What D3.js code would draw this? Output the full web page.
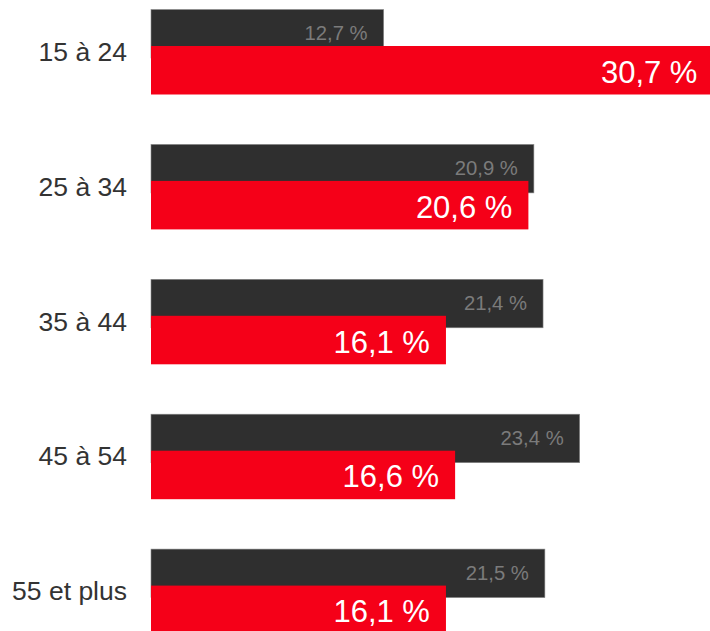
<!DOCTYPE html>
<html><head><meta charset="utf-8">
<script src="https://cdn.jsdelivr.net/npm/d3@7"></script>
<style>html,body{margin:0;padding:0;background:#fff;overflow:hidden}svg{display:block}</style>
</head><body>
<script>
const categories = ["15 à 24", "25 à 34", "35 à 44", "45 à 54", "55 et plus"];
const darkValues = [12.7, 20.9, 21.4, 23.4, 21.5];
const redValues = [30.7, 20.6, 16.1, 16.6, 16.1];
const fmt = v => String(v.toFixed(1)).replace(".", ",") + " %";

const W = 710, H = 631;
const svg = d3.select("body").append("svg").attr("width", W).attr("height", H);

const x = d3.scaleLinear().domain([0, 35]).range([151, 151 + 18.32 * 35]);
const y = d3.scaleBand().domain(categories).range([9.5, 9.5 + 5 * 134.9]).paddingInner(0);
const barH = 48.5, redOff = 36.5;

const g = svg.selectAll("g.cat").data(categories).enter().append("g").attr("class", "cat");

g.append("rect")
  .attr("x", x(0)).attr("y", c => y(c))
  .attr("width", (c, i) => x(darkValues[i]) - x(0)).attr("height", barH)
  .attr("fill", "#2f2f2f").attr("stroke", "#8a8a8a").attr("stroke-width", 0.6);

g.append("text")
  .attr("x", (c, i) => x(darkValues[i]) - 16).attr("y", c => y(c) + 30.5)
  .attr("text-anchor", "end").attr("font-family", "Liberation Sans, Arial, sans-serif")
  .attr("font-size", 20.3).attr("fill", "#7b7b7b")
  .text((c, i) => fmt(darkValues[i]));

g.append("rect")
  .attr("x", x(0)).attr("y", c => y(c) + redOff)
  .attr("width", (c, i) => x(redValues[i]) - x(0)).attr("height", barH)
  .attr("fill", "#f50018");

g.append("text")
  .attr("x", (c, i) => x(redValues[i]) - 16).attr("y", c => y(c) + redOff + 36.7)
  .attr("text-anchor", "end").attr("font-family", "Liberation Sans, Arial, sans-serif")
  .attr("font-size", 31).attr("fill", "#ffffff")
  .text((c, i) => fmt(redValues[i]));

g.append("text")
  .attr("x", 127).attr("y", c => y(c) + 51.2)
  .attr("text-anchor", "end").attr("font-family", "Liberation Sans, Arial, sans-serif")
  .attr("font-size", 26.5).attr("fill", "#333333")
  .text(c => c);
</script>
</body></html>
